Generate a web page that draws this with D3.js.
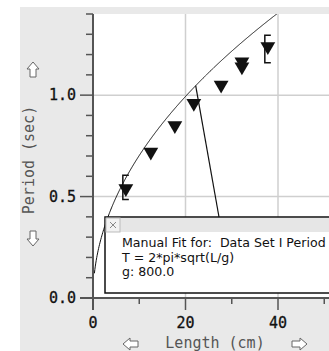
<!DOCTYPE html>
<html>
<head>
<meta charset="utf-8">
<script src="https://cdn.jsdelivr.net/npm/d3@7"></script>
<style>
  body { margin: 0; background: #fff; }
  svg { display: block; }
  .tick-label { font-family: "DejaVu Sans Mono", monospace; font-size: 15px; fill: #111; stroke: #111; stroke-width: 0.3; }
  .axis-title { font-family: "DejaVu Sans Mono", monospace; font-size: 15px; fill: #555; }
  .fit-text { font-family: "DejaVu Sans", sans-serif; font-size: 12.6px; fill: #111; white-space: pre; }
</style>
</head>
<body>
<div class="chart"></div>
<script>
var svgWidth = 329;
var svgHeight = 351;

// data
var lengths = [7.1, 12.5, 17.7, 21.8, 27.7, 32.2, 32.2, 37.8];
var periods = [0.54, 0.72, 0.85, 0.96, 1.05, 1.14, 1.165, 1.24];
var errLow = [0.485, null, null, null, null, null, null, 1.16];
var errHigh = [0.605, null, null, null, null, null, null, 1.295];
var xTickValues = [0, 10, 20, 30, 40, 50];
var xTickLabels = ["0", "", "20", "", "40", ""];
var yTickValues = [0, 0.1, 0.2, 0.3, 0.4, 0.5, 0.6, 0.7, 0.8, 0.9, 1.0, 1.1, 1.2, 1.3, 1.4];
var yMajor = [0, 0.5, 1.0];
var gValue = 800;
var fitLines = ["Manual Fit for:  Data Set I Period", "T = 2*pi*sqrt(L/g)", "g: 800.0"];

var plotLeft = 93, plotTop = 14, plotBottom = 298, plotRight = 340;

var x = d3.scaleLinear().domain([0, 50]).range([plotLeft, plotLeft + 231.25]);
var y = d3.scaleLinear().domain([0, 1.4]).range([plotBottom, plotTop]);

var svg = d3.select(".chart").append("svg")
  .attr("width", svgWidth)
  .attr("height", svgHeight);

// gray frame background
svg.append("rect").attr("x", 20).attr("y", 7)
  .attr("width", svgWidth - 20).attr("height", svgHeight - 7)
  .attr("fill", "#e9e9e9");

svg.append("rect").attr("x", plotLeft).attr("y", plotTop)
  .attr("width", plotRight - plotLeft).attr("height", plotBottom - plotTop)
  .attr("fill", "#fff");

svg.append("clipPath").attr("id", "plotclip").append("rect")
  .attr("x", plotLeft).attr("y", plotTop)
  .attr("width", plotRight - plotLeft).attr("height", plotBottom - plotTop);

var plot = svg.append("g").attr("clip-path", "url(#plotclip)");

// grid
plot.selectAll(".hgrid").data([0.5, 1.0]).enter().append("line")
  .attr("x1", plotLeft).attr("x2", plotRight)
  .attr("y1", function(d) { return y(d); }).attr("y2", function(d) { return y(d); })
  .attr("stroke", "#cfcfcf").attr("stroke-width", 1.5);
plot.selectAll(".vgrid").data([20, 40]).enter().append("line")
  .attr("y1", plotTop).attr("y2", plotBottom)
  .attr("x1", function(d) { return x(d); }).attr("x2", function(d) { return x(d); })
  .attr("stroke", "#cfcfcf").attr("stroke-width", 1.5);

// fit curve
var curvePts = d3.range(0.3, 45, 0.1).map(function(L) {
  return [L, 2 * Math.PI * Math.sqrt(L / gValue)];
});
var line = d3.line().x(function(d) { return x(d[0]); }).y(function(d) { return y(d[1]); });
plot.append("path").datum(curvePts).attr("d", line)
  .attr("fill", "none").attr("stroke", "#111").attr("stroke-width", 1);

// error brackets
lengths.forEach(function(L, i) {
  if (errLow[i] === null) return;
  var cx = x(L) - 3;
  plot.append("path")
    .attr("d", "M" + (cx + 6) + "," + y(errHigh[i]) + "H" + cx + "V" + y(errLow[i]) + "H" + (cx + 6))
    .attr("fill", "none").attr("stroke", "#111").attr("stroke-width", 1.5);
});

// points (down triangles)
var tri = d3.symbol().type(d3.symbolTriangle).size(95);
plot.selectAll(".pt").data(lengths).enter().append("path")
  .attr("d", tri)
  .attr("transform", function(d, i) { return "translate(" + x(d) + "," + y(periods[i]) + ") rotate(180)"; })
  .attr("fill", "#111");

// connector from curve to fit box
var anchorL = 22.2;
var boxX = 105, boxY = 217, boxH = 76;
plot.append("line")
  .attr("x1", x(anchorL)).attr("y1", y(2 * Math.PI * Math.sqrt(anchorL / gValue)))
  .attr("x2", 219).attr("y2", boxY)
  .attr("stroke", "#111").attr("stroke-width", 1.2);

// axes
var axisColor = "#555";
svg.append("line").attr("x1", plotLeft).attr("x2", plotLeft)
  .attr("y1", plotTop).attr("y2", plotBottom + 12)
  .attr("stroke", axisColor).attr("stroke-width", 2);
svg.append("line").attr("x1", plotLeft - 13).attr("x2", svgWidth)
  .attr("y1", plotBottom).attr("y2", plotBottom)
  .attr("stroke", axisColor).attr("stroke-width", 2);

svg.selectAll(".ytick").data(yTickValues).enter().append("line")
  .attr("x1", function(d) { return yMajor.indexOf(d) >= 0 ? plotLeft - 13 : plotLeft - 7; })
  .attr("x2", plotLeft)
  .attr("y1", function(d) { return y(d); }).attr("y2", function(d) { return y(d); })
  .attr("stroke", axisColor).attr("stroke-width", 1.5);
svg.selectAll(".ylab").data(yMajor).enter().append("text")
  .attr("class", "tick-label")
  .attr("x", 76).attr("y", function(d) { return y(d) + 5; })
  .attr("text-anchor", "end")
  .text(function(d) { return d3.format(".1f")(d); });

svg.selectAll(".xtick").data(xTickValues).enter().append("line")
  .attr("x1", function(d) { return x(d); }).attr("x2", function(d) { return x(d); })
  .attr("y1", plotBottom)
  .attr("y2", function(d, i) { return xTickLabels[i] ? plotBottom + 12 : plotBottom + 6; })
  .attr("stroke", axisColor).attr("stroke-width", 1.5);
svg.selectAll(".xlab").data(xTickValues).enter().append("text")
  .attr("class", "tick-label")
  .attr("x", function(d) { return x(d); }).attr("y", 328)
  .attr("text-anchor", "middle")
  .text(function(d, i) { return xTickLabels[i]; });

// axis titles
svg.append("text").attr("class", "axis-title")
  .attr("transform", "translate(34,160) rotate(-90)")
  .attr("text-anchor", "middle")
  .text("Period (sec)");
svg.append("text").attr("class", "axis-title")
  .attr("x", 215).attr("y", 348)
  .attr("text-anchor", "middle")
  .text("Length (cm)");

// outlined arrows
function arrow(cx, cy, angle) {
  svg.append("path")
    .attr("d", "M0,-8 L6,-1 L3,-1 L3,7 L-3,7 L-3,-1 L-6,-1 Z")
    .attr("transform", "translate(" + cx + "," + cy + ") rotate(" + angle + ")")
    .attr("fill", "#fff").attr("stroke", "#666").attr("stroke-width", 1);
}
arrow(33, 70, 0);
arrow(33, 238, 180);
arrow(131, 344, -90);
arrow(299, 344, 90);

// fit box
var box = svg.append("g");
box.append("rect").attr("x", boxX).attr("y", boxY)
  .attr("width", svgWidth - boxX + 10).attr("height", boxH)
  .attr("fill", "#fff").attr("stroke", "#111").attr("stroke-width", 1.5);
box.append("rect").attr("x", boxX + 1).attr("y", boxY + 1)
  .attr("width", svgWidth - boxX).attr("height", 14)
  .attr("fill", "#e6e6e6");
box.append("rect").attr("x", boxX + 1).attr("y", boxY + 1)
  .attr("width", 14).attr("height", 14)
  .attr("fill", "#f2f2f2").attr("stroke", "#bbb").attr("stroke-width", 1);
box.append("path")
  .attr("d", "M" + (boxX + 5) + "," + (boxY + 5) + "l6,6 m0,-6 l-6,6")
  .attr("stroke", "#888").attr("stroke-width", 1);
box.selectAll(".fit").data(fitLines).enter().append("text")
  .attr("class", "fit-text")
  .attr("x", 122).attr("y", function(d, i) { return boxY + 30 + i * 14.5; })
  .text(function(d) { return d; });
</script>
</body>
</html>
